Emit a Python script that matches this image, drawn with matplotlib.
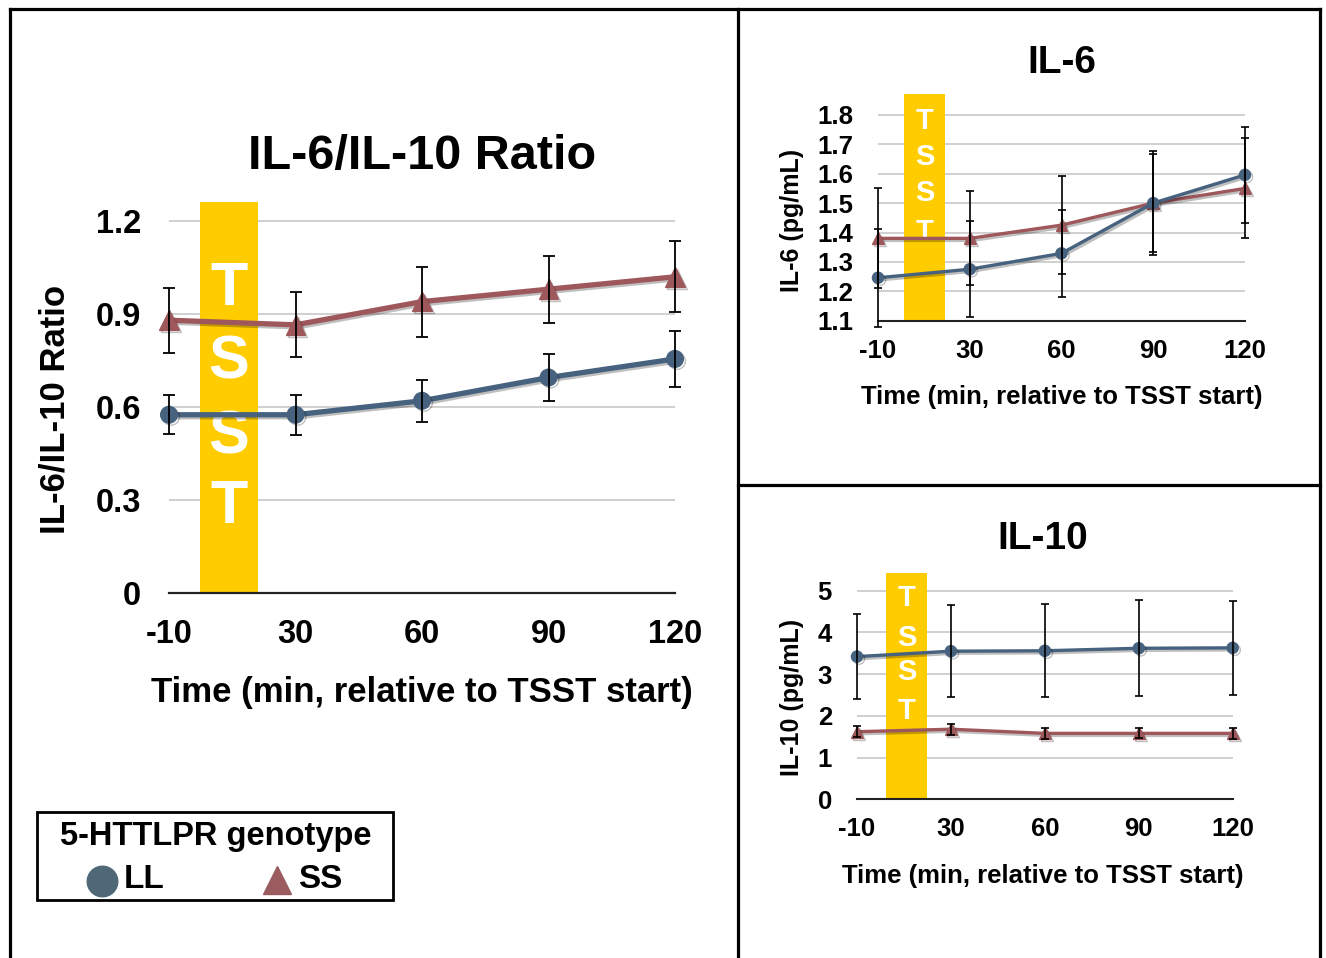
import matplotlib
matplotlib.use("Agg")
import matplotlib.pyplot as plt
from matplotlib.lines import Line2D
from matplotlib.patches import Rectangle
import matplotlib.patheffects as pe

plt.rcParams['font.family'] = ['Liberation Sans', 'DejaVu Sans']
plt.rcParams['font.weight'] = 'bold'

# ---------------- data ----------------
times = ['-10', '30', '60', '90', '120']

ratio_LL = [0.575, 0.575, 0.62, 0.695, 0.755]
ratio_LL_err = [0.063, 0.065, 0.068, 0.076, 0.09]
ratio_SS = [0.88, 0.865, 0.94, 0.98, 1.02]
ratio_SS_err = [0.105, 0.105, 0.113, 0.108, 0.115]

il6_LL = [1.246, 1.275, 1.329, 1.50, 1.596]
il6_LL_err = [0.167, 0.164, 0.147, 0.177, 0.162]
il6_SS = [1.38, 1.38, 1.425, 1.50, 1.55]
il6_SS_err = [0.17, 0.16, 0.167, 0.166, 0.17]

il10_LL = [3.42, 3.55, 3.56, 3.62, 3.63]
il10_LL_err = [1.02, 1.10, 1.11, 1.15, 1.13]
il10_SS = [1.62, 1.68, 1.58, 1.58, 1.58]
il10_SS_err = [0.13, 0.13, 0.13, 0.12, 0.13]

ratio_ticks = [0, 0.3, 0.6, 0.9, 1.2]
ratio_ticklabels = ['0', '0.3', '0.6', '0.9', '1.2']
il6_ticks = [1.1, 1.2, 1.3, 1.4, 1.5, 1.6, 1.7, 1.8]
il6_ticklabels = ['1.1', '1.2', '1.3', '1.4', '1.5', '1.6', '1.7', '1.8']
il10_ticks = [0, 1, 2, 3, 4, 5]
il10_ticklabels = ['0', '1', '2', '3', '4', '5']

# ---------------- style ----------------
C_LL = '#46627F'
C_SS = '#9E585C'
C_GOLD = '#FFCC00'
C_GRID = '#C4C4C4'

W, H = 1326, 958
fig = plt.figure(figsize=(W / 100, H / 100), dpi=100)


def fx(x):
    return x / W


def fy(y):
    return 1 - y / H


def axes_px(l, r, bottom, top):
    return fig.add_axes([fx(l), fy(bottom), (r - l) / W, (bottom - top) / H])


shadow = [pe.SimpleLineShadow(offset=(1.5, -1.5), alpha=0.25, shadow_color='black'), pe.Normal()]


def draw_panel(ax, ll, ll_err, ss, ss_err, ylim, ticks, ticklabels, span, lw, ms_c, ms_t,
               tick_fs, ypad, xpad, cap, elw, spine_lw):
    x = list(range(len(times)))
    ax.set_xlim(0, len(times) - 1)
    ax.set_ylim(*ylim)
    ax.set_yticks(ticks)
    ax.set_yticklabels(ticklabels)
    ax.set_xticks(x)
    ax.set_xticklabels(times)
    ax.tick_params(axis='both', length=0, labelsize=tick_fs)
    ax.tick_params(axis='y', pad=ypad)
    ax.tick_params(axis='x', pad=xpad)
    for s in ['left', 'right', 'top']:
        ax.spines[s].set_visible(False)
    ax.spines['bottom'].set_linewidth(spine_lw)
    ax.spines['bottom'].set_color('#222222')
    ax.spines['bottom'].set_zorder(3)
    ax.yaxis.grid(True, color=C_GRID, lw=1.1)
    ax.set_axisbelow(True)
    ax.axvspan(span[0], span[1], ymin=0, ymax=1, color=C_GOLD, zorder=1.5, lw=0)
    ax.plot(x, ss, color=C_SS, lw=lw, marker='^', ms=ms_t, zorder=4, clip_on=False,
            path_effects=shadow)
    ax.plot(x, ll, color=C_LL, lw=lw, marker='o', ms=ms_c, zorder=4, clip_on=False,
            path_effects=shadow)
    ax.errorbar(x, ss, yerr=ss_err, fmt='none', ecolor='black', elinewidth=elw,
                capsize=cap, capthick=elw, zorder=5, clip_on=False)
    ax.errorbar(x, ll, yerr=ll_err, fmt='none', ecolor='black', elinewidth=elw,
                capsize=cap, capthick=elw, zorder=5, clip_on=False)


def tsst(ax, xa, ys, fs):
    for ch, ya in zip('TSST', ys):
        ax.text(xa, ya, ch, transform=ax.transAxes, color='white', fontsize=fs,
                fontweight='bold', ha='center', va='center', zorder=3)


# ---------------- left: ratio ----------------
ax1 = axes_px(169, 675, 593, 593 - 1.26 * 310)
draw_panel(ax1, ratio_LL, ratio_LL_err, ratio_SS, ratio_SS_err, (0, 1.26),
           ratio_ticks, ratio_ticklabels, (0.245, 0.70), lw=3.8, ms_c=12, ms_t=14,
           tick_fs=23.5, ypad=20, xpad=19, cap=4, elw=1.3, spine_lw=1.6)
tsst(ax1, 0.1186, [0.776, 0.589, 0.397, 0.218], 44)
ax1.set_xlabel('Time (min, relative to TSST start)', fontsize=25, fontweight='bold', va='center')
ax1.xaxis.set_label_coords(0.5, -0.2535)
ax1.set_ylabel('IL-6/IL-10 Ratio', fontsize=25, fontweight='bold', va='center')
ax1.yaxis.set_label_coords(-0.2253, 0.471)
fig.text(fx(422), fy(157), 'IL-6/IL-10 Ratio', fontsize=35, fontweight='bold',
         ha='center', va='center')

# ---------------- right top: IL-6 ----------------
ax2 = axes_px(878, 1245, 320.7, 320.7 - 0.771 * 294)
draw_panel(ax2, il6_LL, il6_LL_err, il6_SS, il6_SS_err, (1.1, 1.871),
           il6_ticks, il6_ticklabels, (0.28, 0.73), lw=2.4, ms_c=8, ms_t=8.5,
           tick_fs=18.5, ypad=18, xpad=13, cap=3, elw=1.2, spine_lw=1.5)
tsst(ax2, 0.127, [0.88, 0.72, 0.565, 0.39], 21)
ax2.set_xlabel('Time (min, relative to TSST start)', fontsize=18.5, fontweight='bold', va='center')
ax2.xaxis.set_label_coords(0.501, -0.3366)
ax2.set_ylabel('IL-6 (pg/mL)', fontsize=18, fontweight='bold', va='center')
ax2.yaxis.set_label_coords(-0.234, 0.444)
fig.text(fx(1062), fy(63), 'IL-6', fontsize=28, fontweight='bold', ha='center', va='center')

# ---------------- right bottom: IL-10 ----------------
ax3 = axes_px(857, 1232.7, 799.3, 799.3 - 5.43 * 41.72)
draw_panel(ax3, il10_LL, il10_LL_err, il10_SS, il10_SS_err, (0, 5.43),
           il10_ticks, il10_ticklabels, (0.31, 0.745), lw=2.4, ms_c=8, ms_t=8.5,
           tick_fs=18.5, ypad=18, xpad=13, cap=3, elw=1.2, spine_lw=1.5)
tsst(ax3, 0.132, [0.89, 0.71, 0.56, 0.39], 21)
ax3.set_xlabel('Time (min, relative to TSST start)', fontsize=18.5, fontweight='bold', va='center')
ax3.xaxis.set_label_coords(0.495, -0.3385)
ax3.set_ylabel('IL-10 (pg/mL)', fontsize=18, fontweight='bold', va='center')
ax3.yaxis.set_label_coords(-0.173, 0.4515)
fig.text(fx(1043), fy(539), 'IL-10', fontsize=28, fontweight='bold', ha='center', va='center')

# ---------------- frame lines ----------------
frame_lw = 2.3
for xs, ys in [([10, 10], [9, 958]), ([10, 1320], [9, 9]), ([1320, 1320], [9, 958]),
               ([738, 738], [9, 958]), ([738, 1320], [485, 485])]:
    fig.add_artist(Line2D([fx(v) for v in xs], [fy(v) for v in ys], transform=fig.transFigure,
                          color='black', lw=frame_lw))

# ---------------- legend ----------------
fig.add_artist(Rectangle((fx(37), fy(900)), (393 - 37) / W, (900 - 812) / H,
                         transform=fig.transFigure, fill=False, ec='black', lw=2))
fig.text(fx(216), fy(837), '5-HTTLPR genotype', fontsize=23.5, fontweight='bold',
         ha='center', va='center')
fig.add_artist(Line2D([fx(102)], [fy(881)], transform=fig.transFigure, marker='o', ms=22,
                      color='#4F6878', lw=0))
fig.text(fx(124), fy(880), 'LL', fontsize=24, fontweight='bold', ha='left', va='center')
fig.add_artist(Line2D([fx(277)], [fy(880)], transform=fig.transFigure, marker='^', ms=20,
                      color='#9A5C5E', lw=0))
fig.text(fx(298), fy(880), 'SS', fontsize=24, fontweight='bold', ha='left', va='center')

fig.savefig('out.png', dpi=100)
